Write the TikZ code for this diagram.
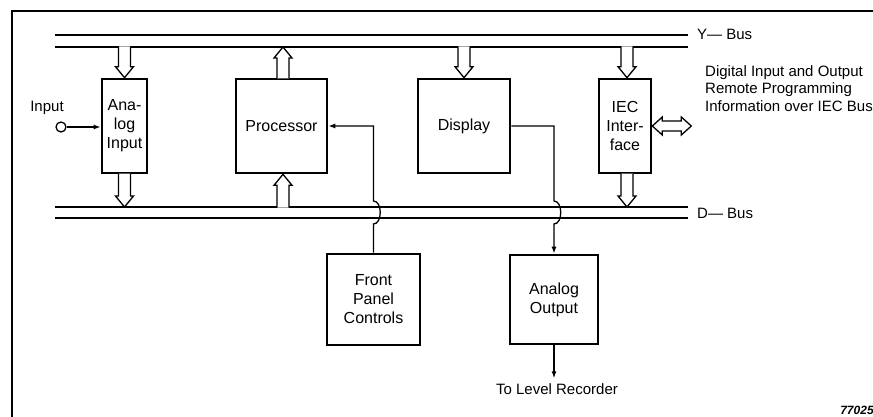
\documentclass[tikz,border=0pt]{standalone}
\usepackage{fontspec}
\setmainfont{Liberation Sans}
\usetikzlibrary{arrows.meta, calc, positioning}

\begin{document}
\begin{tikzpicture}[x=1pt, y=-1pt,
    block/.style={draw, line width=2.6pt, inner sep=1pt, align=center,
      font=\fontsize{16}{19}\selectfont},
    bus/.style={line width=1.3pt},
    conn/.style={line width=1.3pt, -{Latex[length=7pt,width=5pt]}},
    hollowline/.style={line width=1.3pt, fill=white, line join=miter},
    lbl/.style={inner sep=0pt, font=\fontsize{15}{17.5}\selectfont},
    hollow/.style={to path={
      let \p1=(\tikztostart), \p2=(\tikztotarget),
          \n1={ifthenelse(\y1>\y2,11,-11)},
          \n2={ifthenelse(\y1>\y2,0.6,-0.6)} in
      (\x2-6pt,\y1+\n2) -- (\x2-6pt,\y2+\n1) -- (\x2-9pt,\y2+\n1) -- (\x2,\y2)
      -- (\x2+9pt,\y2+\n1) -- (\x2+6pt,\y2+\n1) -- (\x2+6pt,\y1+\n2)}}]

  \useasboundingbox (0,0) rectangle (873,417);

  % frame
  \draw[line width=1.6pt] (12,417) -- (12,11) -- (873,11);

  % Y and D bus
  \coordinate (ytw) at (55,35);  \coordinate (yte) at (688,35);
  \coordinate (ybw) at (55,47);  \coordinate (ybe) at (688,47);
  \coordinate (dtw) at (55,207); \coordinate (dte) at (688,207);
  \coordinate (dbw) at (55,218); \coordinate (dbe) at (688,218);
  \coordinate (hopA) at (0,201); \coordinate (hopB) at (0,224);
  \draw[bus] (ytw) -- (yte);
  \draw[bus] (ybw) -- (ybe);
  \draw[bus] (dtw) -- (dte);
  \draw[bus] (dbw) -- (dbe);
  \node[lbl, anchor=west] (ylbl) at (697,34) {Y--- Bus};
  \node[lbl, anchor=west] (dlbl) at (697,213) {D--- Bus};

  % blocks
  \node[block, minimum width=45pt, minimum height=94pt] (ain) at (124.5,126) {Ana-\\log\\Input};
  \node[block, minimum width=91pt, minimum height=94pt] (proc) at (281.5,126) {Processor};
  \node[block, minimum width=92pt, minimum height=94pt] (disp) at (464,126) {Display};
  \node[block, minimum width=52pt, minimum height=94pt] (iec) at (625,126) {IEC\\Inter-\\face};
  \node[block, minimum width=93pt, minimum height=91pt] (fpc) at (373.5,299.5) {Front\\Panel\\Controls};
  \node[block, minimum width=88pt, minimum height=89pt] (aout) at (554,299.5) {Analog\\Output};

  % bus arrows
  \draw[hollowline] (ain.north |- ybw) to[hollow] (ain.north);
  \draw[hollowline] (ain.south) to[hollow] (ain.south |- dtw);
  \draw[hollowline] ([xshift=1.5pt]proc.north) to[hollow] ([xshift=1.5pt]proc.north |- ybw);
  \draw[hollowline] ([xshift=1.5pt]proc.south |- dtw) to[hollow] ([xshift=1.5pt]proc.south);
  \draw[hollowline] (disp.north |- ybw) to[hollow] (disp.north);
  \draw[hollowline] ([xshift=2pt]iec.north |- ybw) to[hollow] ([xshift=2pt]iec.north);
  \draw[hollowline] ([xshift=2pt]iec.south) to[hollow] ([xshift=2pt]iec.south |- dtw);

  % IEC bus port
  \draw[hollowline] (iec.east) -- ++(10,-9) -- ++(0,4) -- ++(19,0) -- ++(0,-4)
    -- ++(10,9) -- ++(-10,9) -- ++(0,-4) -- ++(-19,0) -- ++(0,4) -- cycle;
  \node[lbl, anchor=north west, align=left] (ieclbl) at (705,65)
    {Digital Input and Output\\Remote Programming\\Information over IEC Bus};

  % input
  \node[lbl] (inlbl) at (47,108) {Input};
  \node[draw, circle, line width=1.3pt, minimum size=10pt, inner sep=0pt] (inp) at (61,127) {};
  \draw[conn] (inp.east) -- (inp -| ain.west);

  % signal lines
  \draw[conn] (fpc.north) -- (fpc.north |- hopB) to[out=0, in=0] (fpc.north |- hopA) |- (proc.east);
  \draw[conn] (disp.east) -| (aout.north |- hopA) to[out=0, in=0] (aout.north |- hopB) -- (aout.north);
  \node[lbl] (rec) at (557,389) {To Level Recorder};
  \draw[conn, shorten >=5pt] (aout.south) -- (aout.south |- rec.north);

  \node[inner sep=0pt, font=\bfseries\itshape\fontsize{12}{14}\selectfont] (fig) at (857,410) {77025};
\end{tikzpicture}
\end{document}
